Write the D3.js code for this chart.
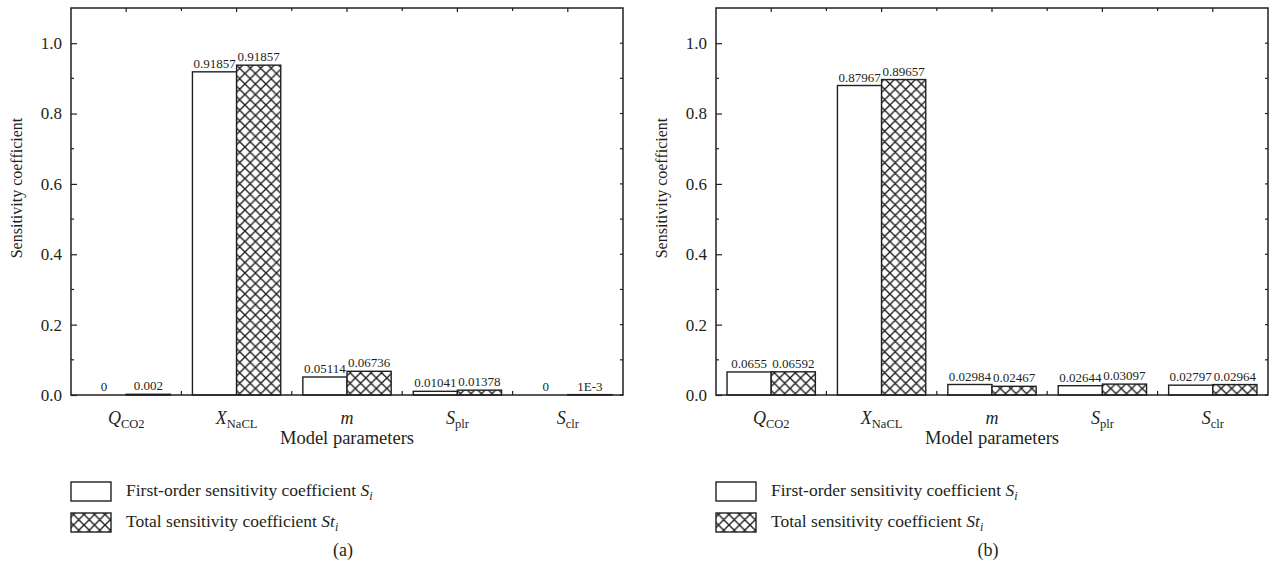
<!DOCTYPE html>
<html>
<head>
<meta charset="utf-8">
<title>Sensitivity coefficients</title>
<script src="https://cdn.jsdelivr.net/npm/d3@7"></script>
<style>
  * { margin: 0; padding: 0; }
  body { background: #fff; }
  svg text { font-family: "Liberation Serif", "Times New Roman", serif; fill: #231f20; }
</style>
</head>
<body>
<svg id="chart" width="1271" height="578"></svg>
<script>
// parameter names (main letter + subscript)
var paramMain = ["Q", "X", "m", "S", "S"];
var paramSub = ["CO2", "NaCL", "", "plr", "clr"];

// panel (a)
var firstA = [0, 0.91857, 0.05114, 0.01041, 0];
var totalA = [0.002, 0.9375, 0.06736, 0.01378, 0.001];
var firstALabels = ["0", "0.91857", "0.05114", "0.01041", "0"];
var totalALabels = ["0.002", "0.91857", "0.06736", "0.01378", "1E-3"];

// panel (b)
var firstB = [0.0655, 0.87967, 0.02984, 0.02644, 0.02797];
var totalB = [0.06592, 0.89657, 0.02467, 0.03097, 0.02964];
var firstBLabels = ["0.0655", "0.87967", "0.02984", "0.02644", "0.02797"];
var totalBLabels = ["0.06592", "0.89657", "0.02467", "0.03097", "0.02964"];

var yMajor = [0, 0.2, 0.4, 0.6, 0.8, 1.0];
var yMinor = [0.1, 0.3, 0.5, 0.7, 0.9];

var ink = "#231f20";
var svg = d3.select("#chart");

// cross hatch
var defs = svg.append("defs");
var pat = defs.append("pattern")
  .attr("id", "hatch")
  .attr("patternUnits", "userSpaceOnUse")
  .attr("width", 10.5).attr("height", 10.5);
pat.append("rect").attr("width", 10.5).attr("height", 10.5).attr("fill", "#fff");
pat.append("path")
  .attr("d", "M0,0L10.5,10.5M10.5,0L0,10.5M-2,2L2,-2M8.5,-2L12.5,2M-2,8.5L2,12.5M8.5,12.5L12.5,8.5")
  .attr("stroke", ink).attr("stroke-width", 1.4).attr("fill", "none");

// plot box (panel a coords, panel b is shifted)
var pLeft = 71, pRight = 623, pTop = 8, pBottom = 395;

function drawPanel(offset, first, total, firstLabels, totalLabels, tag) {
  var g = svg.append("g").attr("transform", "translate(" + offset + ",0)");

  var x = d3.scaleBand().domain(d3.range(5)).range([pLeft, pRight])
    .paddingInner(0.2).paddingOuter(0.1);
  var xi = d3.scaleBand().domain(["first", "total"]).range([0, x.bandwidth()]);
  var y = d3.scaleLinear().domain([0, 1.1]).range([pBottom, pTop]);

  // bars
  var rows = d3.range(5).map(function (i) {
    return [
      {i: i, k: "first", v: first[i], lab: firstLabels[i]},
      {i: i, k: "total", v: total[i], lab: totalLabels[i]}
    ];
  });
  var bars = g.append("g").selectAll("g")
    .data(rows).enter().append("g")
    .attr("transform", function (d, i) { return "translate(" + x(i) + ",0)"; });

  bars.selectAll("rect")
    .data(function (d) { return d; })
    .enter().append("rect")
    .attr("x", function (d) { return xi(d.k); })
    .attr("y", function (d) { return y(d.v); })
    .attr("width", xi.bandwidth())
    .attr("height", function (d) { return y(0) - y(d.v); })
    .attr("fill", function (d) { return d.k == "total" ? "url(#hatch)" : "#fff"; })
    .attr("stroke", ink)
    .attr("stroke-width", 1.4);

  bars.selectAll("text")
    .data(function (d) { return d; })
    .enter().append("text")
    .attr("x", function (d) { return xi(d.k) + xi.bandwidth() / 2; })
    .attr("y", function (d) { return y(d.v) - 4; })
    .attr("text-anchor", "middle")
    .attr("font-size", 13)
    .text(function (d) { return d.lab; });

  // frame
  g.append("rect")
    .attr("x", pLeft).attr("y", pTop)
    .attr("width", pRight - pLeft).attr("height", pBottom - pTop)
    .attr("fill", "none").attr("stroke", ink).attr("stroke-width", 1.5);

  // left axis
  var yAxis = d3.axisLeft(y).tickValues(yMajor).tickSize(-6).tickPadding(9)
    .tickFormat(d3.format(".1f"));
  var ya = g.append("g").attr("transform", "translate(" + pLeft + ",0)").call(yAxis);
  ya.select(".domain").remove();
  ya.selectAll("line").attr("stroke", ink).attr("stroke-width", 1.2);
  ya.selectAll("text").attr("font-size", 17).attr("fill", ink)
    .style("font-family", "Liberation Serif, serif");

  var ticks = g.append("g").attr("stroke", ink).attr("stroke-width", 1.2);
  ticks.selectAll(".ym").data(yMinor).enter().append("line")
    .attr("x1", pLeft).attr("x2", pLeft + 3)
    .attr("y1", y).attr("y2", y);
  // right side ticks
  ticks.selectAll(".yr").data(yMajor.concat(yMinor)).enter().append("line")
    .attr("x1", pRight).attr("x2", pRight - 3)
    .attr("y1", y).attr("y2", y);
  // top / bottom ticks at centers and boundaries
  var centers = d3.range(5).map(function (i) { return x(i) + x.bandwidth() / 2; });
  var bounds = d3.range(1, 5).map(function (i) { return x(i) - x.step() * x.paddingInner() / 2; });
  ticks.selectAll(".tc").data(centers).enter().append("line")
    .attr("x1", function (d) { return d; }).attr("x2", function (d) { return d; })
    .attr("y1", pTop).attr("y2", pTop + 4);
  ticks.selectAll(".tb").data(bounds).enter().append("line")
    .attr("x1", function (d) { return d; }).attr("x2", function (d) { return d; })
    .attr("y1", pTop).attr("y2", pTop + 3);
  ticks.selectAll(".bb").data(bounds).enter().append("line")
    .attr("x1", function (d) { return d; }).attr("x2", function (d) { return d; })
    .attr("y1", pBottom).attr("y2", pBottom - 4);

  // category labels
  var cat = g.append("g").selectAll("text")
    .data(d3.range(5)).enter().append("text")
    .attr("x", function (i) { return centers[i]; })
    .attr("y", 424)
    .attr("text-anchor", "middle")
    .attr("font-size", 18);
  cat.append("tspan").attr("font-style", "italic").text(function (i) { return paramMain[i]; });
  cat.append("tspan").attr("font-size", 12.5).attr("dy", 4)
    .text(function (i) { return paramSub[i]; });

  // axis titles
  g.append("text")
    .attr("x", (pLeft + pRight) / 2).attr("y", 444)
    .attr("text-anchor", "middle").attr("font-size", 18.5)
    .text("Model parameters");
  g.append("text")
    .attr("transform", "translate(22,188) rotate(-90)")
    .attr("text-anchor", "middle").attr("font-size", 16)
    .text("Sensitivity coefficient");

  // legend
  var leg = g.append("g");
  leg.append("rect").attr("x", 71).attr("y", 482).attr("width", 40).attr("height", 19)
    .attr("fill", "#fff").attr("stroke", ink).attr("stroke-width", 1.4);
  leg.append("rect").attr("x", 71).attr("y", 513).attr("width", 40).attr("height", 19)
    .attr("fill", "url(#hatch)").attr("stroke", ink).attr("stroke-width", 1.4);
  var t1 = leg.append("text").attr("x", 126).attr("y", 496).attr("font-size", 17.5);
  t1.append("tspan").text("First-order sensitivity coefficient ");
  t1.append("tspan").attr("font-style", "italic").text("S");
  t1.append("tspan").attr("font-style", "italic").attr("font-size", 12).attr("dy", 4).text("i");
  var t2 = leg.append("text").attr("x", 126).attr("y", 527).attr("font-size", 17.5);
  t2.append("tspan").text("Total sensitivity coefficient ");
  t2.append("tspan").attr("font-style", "italic").text("St");
  t2.append("tspan").attr("font-style", "italic").attr("font-size", 12).attr("dy", 4).text("i");

  g.append("text")
    .attr("x", 343).attr("y", 556)
    .attr("text-anchor", "middle").attr("font-size", 18)
    .text(tag);
}

drawPanel(0, firstA, totalA, firstALabels, totalALabels, "(a)");
drawPanel(645, firstB, totalB, firstBLabels, totalBLabels, "(b)");
</script>
</body>
</html>
